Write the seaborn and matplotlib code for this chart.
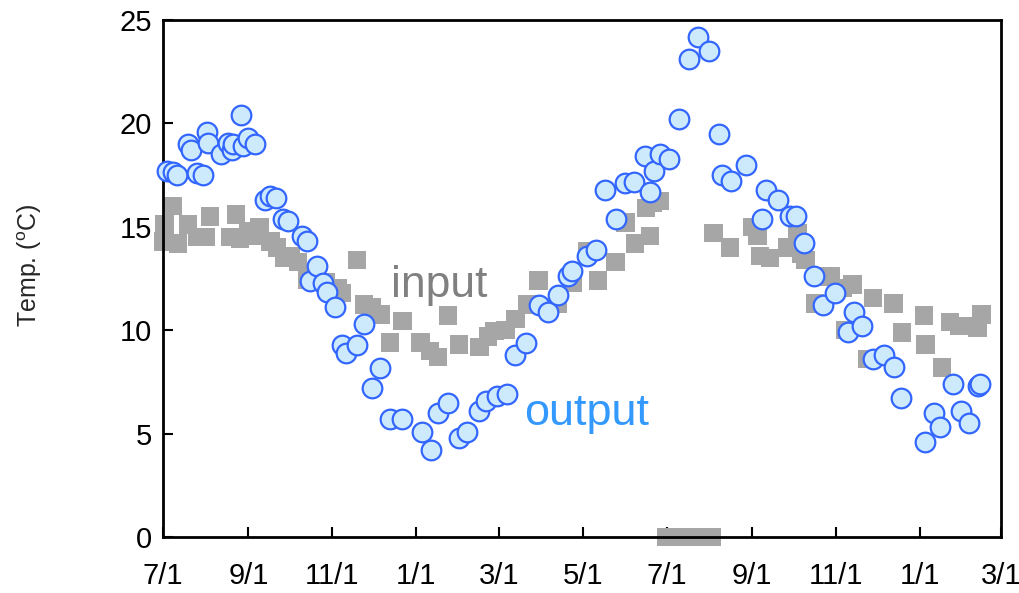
import matplotlib
matplotlib.use("Agg")
import matplotlib.pyplot as plt
import matplotlib.dates as mdates
import pandas as pd
import seaborn as sns

# ---------------- data ----------------
input_dates = [
    "2019-07-01", "2019-07-02", "2019-07-08", "2019-07-12", "2019-07-19", "2019-07-26",
    "2019-08-01", "2019-08-04", "2019-08-19", "2019-08-23", "2019-08-26", "2019-09-01",
    "2019-09-07", "2019-09-09", "2019-09-17", "2019-09-22", "2019-09-27", "2019-10-02",
    "2019-10-07", "2019-10-14", "2019-10-27", "2019-11-05", "2019-11-08", "2019-11-19",
    "2019-11-24", "2019-11-30", "2019-12-06", "2019-12-13", "2019-12-22", "2020-01-04",
    "2020-01-11", "2020-01-17", "2020-01-24", "2020-02-01", "2020-02-16", "2020-02-22",
    "2020-02-27", "2020-03-06", "2020-03-13", "2020-03-22", "2020-03-30", "2020-04-13",
    "2020-04-24", "2020-05-04", "2020-05-12", "2020-05-25", "2020-06-01", "2020-06-08",
    "2020-06-16", "2020-06-19", "2020-06-21", "2020-06-26",
    "2020-07-01", "2020-07-08", "2020-07-15", "2020-07-22", "2020-07-29", "2020-08-03",
    "2020-08-04", "2020-08-16", "2020-09-01", "2020-09-05", "2020-09-07", "2020-09-14",
    "2020-09-27", "2020-10-04", "2020-10-07", "2020-10-10", "2020-10-17", "2020-10-24",
    "2020-10-28", "2020-11-06", "2020-11-08", "2020-11-13", "2020-11-24", "2020-11-28",
    "2020-12-13", "2020-12-19", "2021-01-04", "2021-01-05", "2021-01-17", "2021-01-23",
    "2021-01-30", "2021-02-06", "2021-02-12", "2021-02-15",
]
input_temp = [
    14.3, 15.1, 16.0, 14.2, 15.1, 14.5,
    14.5, 15.5, 14.5, 15.6, 14.4, 14.8,
    14.55, 15.0, 14.3, 14.0, 13.5, 13.6,
    13.3, 12.45, 12.3, 12.05, 11.8, 13.4,
    11.25, 11.1, 10.75, 9.4, 10.45, 9.4,
    9.0, 8.7, 10.7, 9.3, 9.2, 9.7,
    9.95, 10.0, 10.55, 11.25, 12.4, 11.3,
    12.3, 13.8, 12.4, 13.3, 15.2, 14.2,
    15.9, 14.55, 16.15, 16.25,
    0.0, 0.0, 0.0, 0.0, 0.0, 0.0,
    14.7, 14.0, 15.0, 14.55, 13.6, 13.5,
    14.0, 14.7, 13.7, 13.4, 11.3, 12.6,
    12.6, 12.05, 10.0, 12.2, 8.6, 11.55,
    11.3, 9.9, 10.7, 9.3, 8.2, 10.4,
    10.2, 10.2, 10.1, 10.75,
]

output_dates = [
    "2019-07-04", "2019-07-08", "2019-07-11", "2019-07-19", "2019-07-21", "2019-07-26",
    "2019-07-30", "2019-08-02", "2019-08-03", "2019-08-12", "2019-08-17", "2019-08-20",
    "2019-08-21", "2019-08-27", "2019-08-28", "2019-09-01", "2019-09-06", "2019-09-13",
    "2019-09-17", "2019-09-21", "2019-09-26", "2019-09-30", "2019-10-10", "2019-10-14",
    "2019-10-16", "2019-10-21", "2019-10-25", "2019-10-28", "2019-11-03", "2019-11-08",
    "2019-11-11", "2019-11-19", "2019-11-24", "2019-11-30", "2019-12-06", "2019-12-13",
    "2019-12-22", "2020-01-05", "2020-01-12", "2020-01-17", "2020-01-24", "2020-02-01",
    "2020-02-07", "2020-02-16", "2020-02-21", "2020-02-29", "2020-03-07", "2020-03-13",
    "2020-03-21", "2020-03-30", "2020-04-06", "2020-04-13", "2020-04-20", "2020-04-23",
    "2020-05-04", "2020-05-11", "2020-05-17", "2020-05-25", "2020-06-01", "2020-06-07",
    "2020-06-15", "2020-06-19", "2020-06-22", "2020-06-26", "2020-07-03", "2020-07-10",
    "2020-07-17", "2020-07-24", "2020-08-01", "2020-08-08", "2020-08-10", "2020-08-17",
    "2020-08-28", "2020-09-08", "2020-09-11", "2020-09-20", "2020-09-29", "2020-10-03",
    "2020-10-09", "2020-10-16", "2020-10-23", "2020-10-31", "2020-11-10", "2020-11-14",
    "2020-11-20", "2020-11-28", "2020-12-06", "2020-12-13", "2020-12-18", "2021-01-05",
    "2021-01-11", "2021-01-16", "2021-01-25", "2021-01-31", "2021-02-06", "2021-02-12",
    "2021-02-14",
]
output_temp = [
    17.7, 17.65, 17.5, 19.0, 18.7, 17.6,
    17.5, 19.6, 19.05, 18.5, 19.05, 18.7,
    19.0, 20.4, 18.9, 19.3, 19.0, 16.3,
    16.5, 16.4, 15.4, 15.3, 14.55, 14.3,
    12.4, 13.1, 12.3, 11.85, 11.1, 9.3,
    8.9, 9.3, 10.3, 7.2, 8.15, 5.7,
    5.7, 5.1, 4.2, 6.0, 6.5, 4.8,
    5.1, 6.1, 6.6, 6.8, 6.9, 8.8,
    9.4, 11.2, 10.9, 11.7, 12.6, 12.85,
    13.6, 13.9, 16.8, 15.4, 17.1, 17.15,
    18.4, 16.7, 17.7, 18.5, 18.3, 20.2,
    23.1, 24.2, 23.5, 19.5, 17.5, 17.2,
    18.0, 15.4, 16.8, 16.3, 15.5, 15.5,
    14.2, 12.6, 11.2, 11.8, 9.9, 10.9,
    10.2, 8.6, 8.8, 8.2, 6.7, 4.6,
    6.0, 5.3, 7.4, 6.1, 5.5, 7.3,
    7.4,
]

x_tick_dates = ["2019-07-01", "2019-09-01", "2019-11-01", "2020-01-01", "2020-03-01",
                "2020-05-01", "2020-07-01", "2020-09-01", "2020-11-01", "2021-01-01",
                "2021-03-01"]
x_tick_labels = ["7/1", "9/1", "11/1", "1/1", "3/1", "5/1", "7/1", "9/1", "11/1", "1/1", "3/1"]
y_ticks = [0, 5, 10, 15, 20, 25]
x_range = ["2019-07-01", "2021-03-01"]
y_label = "Temp. ($^{\\mathrm{o}}$C)"
series_labels = ["input", "output"]
series_label_pos = [("2020-01-18", 11.6), ("2020-05-04", 5.42)]

# ---------------- style ----------------
sns.set_style("white")
plt.rcParams["font.family"] = ["Liberation Sans", "DejaVu Sans"]
plt.rcParams["mathtext.fontset"] = "custom"
plt.rcParams["mathtext.rm"] = "Liberation Sans"

fig = plt.figure(figsize=(10.2, 5.93), dpi=100)
ax = fig.add_axes([163 / 1020, 56 / 593, (1001 - 163) / 1020, (537 - 20) / 593])

df_in = pd.DataFrame({"date": pd.to_datetime(input_dates), "temp": input_temp})
df_out = pd.DataFrame({"date": pd.to_datetime(output_dates), "temp": output_temp})

sns.scatterplot(data=df_in, x="date", y="temp", marker="s", s=177, color="#a6a6a6",
                edgecolor="none", linewidth=0, ax=ax, clip_on=False, zorder=2)
sns.scatterplot(data=df_out, x="date", y="temp", marker="o", s=200, color="#cdeafd",
                edgecolor="#3366ff", linewidth=1.6, ax=ax, clip_on=False, zorder=3)

ax.set_xlim(pd.Timestamp(x_range[0]), pd.Timestamp(x_range[1]))
ax.set_ylim(y_ticks[0], y_ticks[-1])
ax.set_xticks(pd.to_datetime(x_tick_dates))
ax.set_xticklabels(x_tick_labels)
ax.set_yticks(y_ticks)
ax.set_yticklabels([str(v) for v in y_ticks])
ax.set_xlabel("")
ax.set_ylabel(y_label, fontsize=18)
ax.yaxis.label.set(ha="center", va="center")
ax.yaxis.set_label_coords((30 - 163) / 838, (537 - 265) / 517)

ax.tick_params(axis="both", direction="in", length=7, width=1.5, labelsize=21,
               colors="black", left=True, bottom=True, top=False, right=False)
ax.tick_params(axis="x", pad=18)
ax.tick_params(axis="y", pad=8)
for sp in ax.spines.values():
    sp.set_visible(True)
    sp.set_color("black")
    sp.set_linewidth(2)
ax.grid(False)

ax.text(mdates.date2num(pd.Timestamp(series_label_pos[0][0])), series_label_pos[0][1],
        series_labels[0], fontsize=32, color="#808080", ha="center", va="baseline", zorder=1)
ax.text(mdates.date2num(pd.Timestamp(series_label_pos[1][0])), series_label_pos[1][1],
        series_labels[1], fontsize=32.5, color="#3399ff", ha="center", va="baseline", zorder=1)

fig.savefig("out.png", dpi=100)
